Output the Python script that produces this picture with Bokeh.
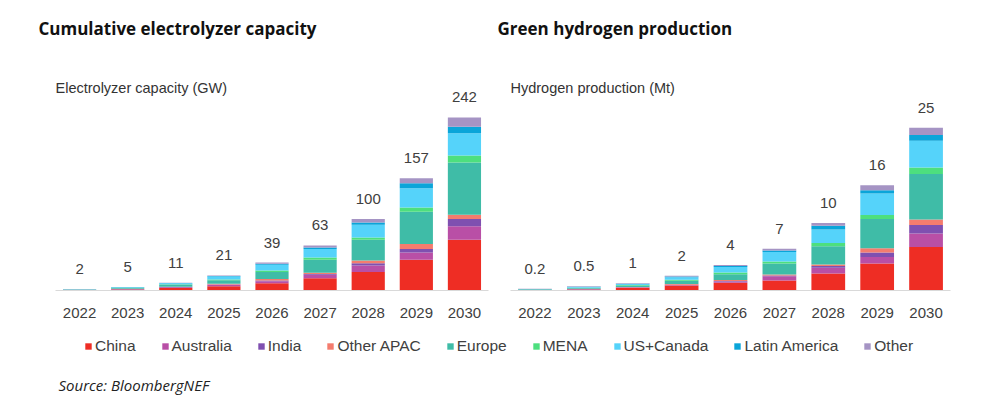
from bokeh.plotting import figure
from bokeh.models import ColumnDataSource, FactorRange, Label, Legend, LegendItem, Range1d, Title
from bokeh.layouts import column, row
from bokeh.core.properties import value
from bokeh.embed import file_html
from bokeh.resources import INLINE

years = ["2022", "2023", "2024", "2025", "2026", "2027", "2028", "2029", "2030"]
regions = ["China", "Australia", "India", "Other APAC", "Europe", "MENA", "US+Canada", "Latin America", "Other"]
colors = ["#EE2D24", "#B94FA6", "#7F50B0", "#F47C6E", "#3FBCA7", "#4DDF7E", "#55D3FA", "#0AA5D9", "#A594C4"]

# Cumulative electrolyzer capacity (GW)
cap_china = [0.6, 1.5, 3.5, 6, 10, 17, 26, 43, 71]
cap_australia = [0.1, 0.4, 1, 2, 3, 5, 9, 10, 19]
cap_india = [0.05, 0.2, 0.3, 0.5, 1, 1, 3, 5, 10]
cap_other_apac = [0.1, 0.3, 0.5, 1, 2, 2, 4, 7, 6]
cap_europe = [0.5, 1.2, 3, 5, 10, 18, 29, 45, 73]
cap_mena = [0.1, 0.3, 0.5, 1, 2, 3, 3, 6, 10]
cap_us_canada = [0.3, 0.7, 1.5, 4, 8, 12, 18, 27, 31]
cap_latam = [0.1, 0.2, 0.3, 0.7, 1.5, 2, 3, 7, 9]
cap_other = [0.15, 0.2, 0.4, 0.8, 1.5, 3, 5, 7, 13]
cap_totals = ["2", "5", "11", "21", "39", "63", "100", "157", "242"]

# Green hydrogen production (Mt)
h2_china = [0.05, 0.15, 0.4, 0.75, 1.2, 1.55, 2.6, 4.15, 6.7]
h2_australia = [0.03, 0.05, 0.05, 0.1, 0.2, 0.65, 0.9, 1.0, 2.05]
h2_india = [0.02, 0.02, 0.03, 0.05, 0.05, 0.1, 0.25, 0.7, 1.3]
h2_other_apac = [0.02, 0.03, 0.05, 0.1, 0.15, 0.15, 0.25, 0.65, 0.85]
h2_europe = [0.04, 0.15, 0.25, 0.5, 0.9, 1.7, 2.8, 4.5, 7.0]
h2_mena = [0.02, 0.03, 0.05, 0.15, 0.25, 0.3, 0.5, 0.6, 1.0]
h2_us_canada = [0.03, 0.1, 0.15, 0.4, 0.85, 1.45, 2.05, 3.3, 4.1]
h2_latam = [0.02, 0.05, 0.05, 0.1, 0.15, 0.25, 0.6, 0.5, 0.9]
h2_other = [0.02, 0.07, 0.07, 0.1, 0.15, 0.25, 0.4, 0.75, 1.1]
h2_totals = ["0.2", "0.5", "1", "2", "4", "7", "10", "16", "25"]

cap_series = [cap_china, cap_australia, cap_india, cap_other_apac, cap_europe,
              cap_mena, cap_us_canada, cap_latam, cap_other]
h2_series = [h2_china, h2_australia, h2_india, h2_other_apac, h2_europe,
             h2_mena, h2_us_canada, h2_latam, h2_other]

TXT = "#404040"
SANS = "Liberation Sans"


def make_chart(series, totals, y_end, width, bl, br, title, subtitle, title_off):
    data = {"year": years}
    for name, vals in zip(regions, series):
        data[name] = vals
    src = ColumnDataSource(data)
    p = figure(x_range=FactorRange(factors=years, range_padding=0),
               y_range=Range1d(0, y_end), width=width, height=330,
               output_backend="svg", toolbar_location=None,
               min_border_left=bl, min_border_right=br, min_border_top=53,
               min_border_bottom=40, y_axis_location=None)
    p.title = Title(text=title, align="left", offset=title_off, standoff=28,
                    text_font="Open Sans", text_font_style="bold",
                    text_font_size="17px", text_color="#111111")
    p.vbar_stack(regions, x="year", width=0.69, source=src, color=colors, line_color=None)
    tops = [sum(v) for v in zip(*series)]
    tsrc = ColumnDataSource(dict(year=years, top=tops, label=totals))
    p.text(x="year", y="top", text="label", source=tsrc, text_align="center",
           text_baseline="middle", y_offset=-20, text_font=value(SANS),
           text_font_size="15px", text_color=TXT)
    p.xgrid.grid_line_color = None
    p.ygrid.grid_line_color = None
    p.outline_line_color = None
    p.xaxis.axis_line_color = "#D9D9D9"
    p.xaxis.major_tick_line_color = None
    p.xaxis.minor_tick_line_color = None
    p.xaxis.major_label_text_font = SANS
    p.xaxis.major_label_text_font_size = "15px"
    p.xaxis.major_label_text_color = TXT
    p.xaxis.major_label_standoff = 11
    p.add_layout(Label(x=0, y=203, x_units="screen", y_units="screen", text=subtitle,
                       text_font=SANS, text_font_size="14.5px", text_color="#333333",
                       text_baseline="middle"))
    return p


p1 = make_chart(cap_series, cap_totals, 331.5, 493, 55, 5,
                "Cumulative electrolyzer capacity", "Electrolyzer capacity (GW)", -17)
p2 = make_chart(h2_series, h2_totals, 36.4, 505, 17, 48,
                "Green hydrogen production", "Hydrogen production (Mt)", -13)

p3 = figure(width=998, height=66, output_backend="svg", toolbar_location=None,
            x_range=Range1d(0, 1), y_range=Range1d(0, 1),
            x_axis_location=None, y_axis_location=None,
            min_border_left=0, min_border_right=0, min_border_top=0, min_border_bottom=0)
p3.xgrid.grid_line_color = None
p3.ygrid.grid_line_color = None
p3.outline_line_color = None
items = []
for name, c in zip(regions, colors):
    r = p3.vbar(x=[float("nan")], top=[float("nan")], width=0.5, color=c, line_color=None)
    items.append(LegendItem(label=name, renderers=[r]))
leg = Legend(items=items, orientation="horizontal", location=(84, 40),
             glyph_width=8, glyph_height=8, label_standoff=3, spacing=25,
             padding=0, margin=0, border_line_color=None, background_fill_alpha=0,
             label_text_font=SANS, label_text_font_size="15.5px", label_text_color=TXT,
             label_height=20)
p3.add_layout(leg, "center")
p3.add_layout(Label(x=58, y=12, x_units="screen", y_units="screen", text="Source: BloombergNEF",
                    text_font="Open Sans", text_font_style="italic", text_font_size="15px",
                    text_color="#222222", text_baseline="middle"))

layout = column(row(p1, p2), p3)
open("out.html", "w").write(file_html(layout, INLINE))
